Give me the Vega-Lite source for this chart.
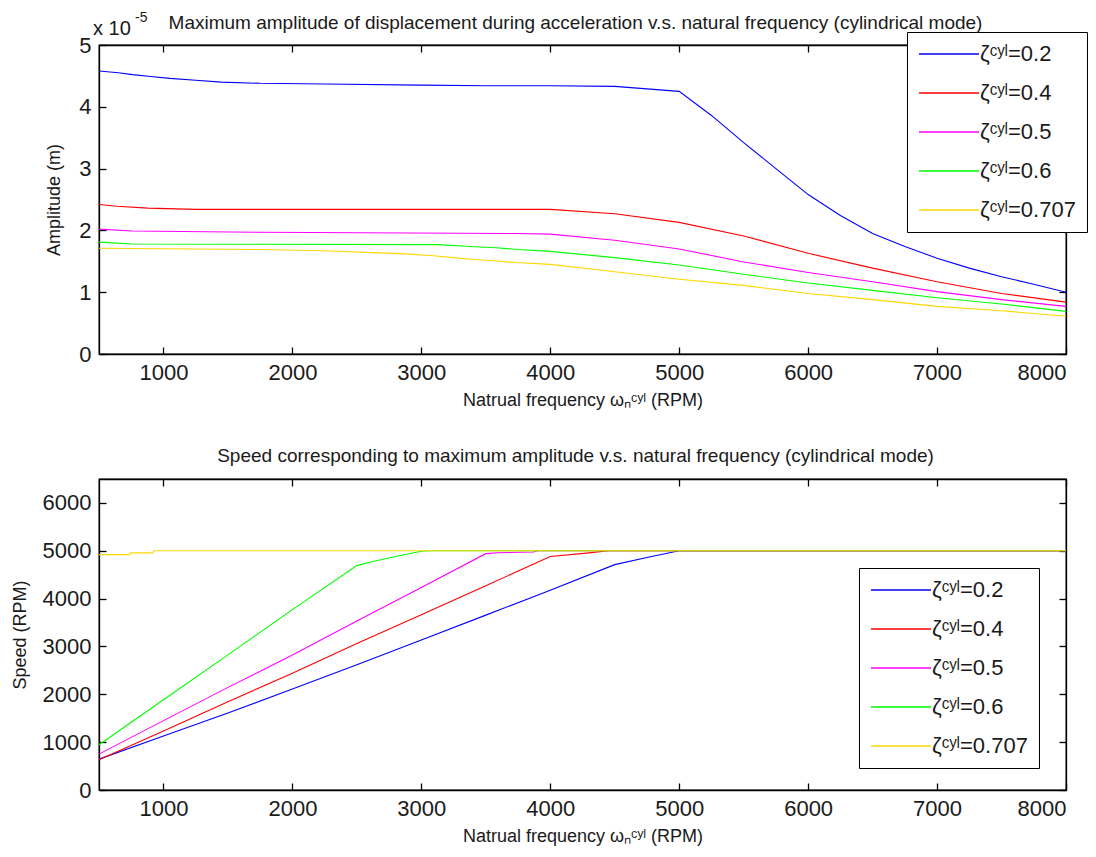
{
  "$schema": "https://vega.github.io/schema/vega-lite/v6.json",
  "background": "white",
  "padding": {"left": 10, "top": 10, "right": 5, "bottom": 5},
  "spacing": 36,
  "config": {
    "font": "Liberation Sans",
    "view": {"stroke": "black", "strokeWidth": 1.3},
    "axis": {
      "domainColor": "black", "tickColor": "black", "labelColor": "#1a1a1a", "titleColor": "#1a1a1a",
      "labelFontSize": 22, "titleFontSize": 18, "titleFontWeight": "normal",
      "tickSize": -7, "grid": false, "labelFont": "Liberation Sans", "titleFont": "Liberation Sans",
      "domainWidth": 1.3, "tickWidth": 1.3, "labelPadding": 15, "titlePadding": 13, "format": "d"
    },
    "axisX": {"titlePadding": 8},
    "title": {"fontSize": 19, "fontWeight": "normal", "color": "#1a1a1a", "font": "Liberation Sans"},
    "legend": {
      "symbolType": "M-1,0H5", "symbolSize": 400, "symbolStrokeWidth": 1.3,
      "labelFontSize": 22, "labelFont": "Liberation Sans", "labelColor": "#1a1a1a",
      "fillColor": "white", "strokeColor": "black", "padding": 11, "rowPadding": 17,
      "labelLimit": 300, "labelOffset": 40, "title": null, "labelBaseline": "middle"
    }
  },
  "datasets": {
    "amp": [
      {"z": "ζᶜʸˡ=0.2", "f": 500, "a": 4.58}, {"z": "ζᶜʸˡ=0.2", "f": 650, "a": 4.55}, {"z": "ζᶜʸˡ=0.2", "f": 760, "a": 4.52},
      {"z": "ζᶜʸˡ=0.2", "f": 900, "a": 4.49}, {"z": "ζᶜʸˡ=0.2", "f": 1050, "a": 4.46}, {"z": "ζᶜʸˡ=0.2", "f": 1250, "a": 4.43},
      {"z": "ζᶜʸˡ=0.2", "f": 1450, "a": 4.40}, {"z": "ζᶜʸˡ=0.2", "f": 1750, "a": 4.38}, {"z": "ζᶜʸˡ=0.2", "f": 2250, "a": 4.37},
      {"z": "ζᶜʸˡ=0.2", "f": 3000, "a": 4.35}, {"z": "ζᶜʸˡ=0.2", "f": 3500, "a": 4.34}, {"z": "ζᶜʸˡ=0.2", "f": 4000, "a": 4.34},
      {"z": "ζᶜʸˡ=0.2", "f": 4500, "a": 4.33}, {"z": "ζᶜʸˡ=0.2", "f": 5000, "a": 4.25}, {"z": "ζᶜʸˡ=0.2", "f": 5250, "a": 3.86},
      {"z": "ζᶜʸˡ=0.2", "f": 5500, "a": 3.42}, {"z": "ζᶜʸˡ=0.2", "f": 5750, "a": 3.0}, {"z": "ζᶜʸˡ=0.2", "f": 6000, "a": 2.58},
      {"z": "ζᶜʸˡ=0.2", "f": 6250, "a": 2.24}, {"z": "ζᶜʸˡ=0.2", "f": 6500, "a": 1.95}, {"z": "ζᶜʸˡ=0.2", "f": 6750, "a": 1.74},
      {"z": "ζᶜʸˡ=0.2", "f": 7000, "a": 1.55}, {"z": "ζᶜʸˡ=0.2", "f": 7250, "a": 1.39}, {"z": "ζᶜʸˡ=0.2", "f": 7500, "a": 1.25},
      {"z": "ζᶜʸˡ=0.2", "f": 7750, "a": 1.13}, {"z": "ζᶜʸˡ=0.2", "f": 8000, "a": 1.0},
      {"z": "ζᶜʸˡ=0.4", "f": 500, "a": 2.42}, {"z": "ζᶜʸˡ=0.4", "f": 640, "a": 2.39}, {"z": "ζᶜʸˡ=0.4", "f": 880, "a": 2.36},
      {"z": "ζᶜʸˡ=0.4", "f": 1250, "a": 2.34}, {"z": "ζᶜʸˡ=0.4", "f": 4000, "a": 2.34}, {"z": "ζᶜʸˡ=0.4", "f": 4500, "a": 2.27},
      {"z": "ζᶜʸˡ=0.4", "f": 5000, "a": 2.13}, {"z": "ζᶜʸˡ=0.4", "f": 5500, "a": 1.91}, {"z": "ζᶜʸˡ=0.4", "f": 6000, "a": 1.63},
      {"z": "ζᶜʸˡ=0.4", "f": 6500, "a": 1.39}, {"z": "ζᶜʸˡ=0.4", "f": 7000, "a": 1.17}, {"z": "ζᶜʸˡ=0.4", "f": 7500, "a": 0.98},
      {"z": "ζᶜʸˡ=0.4", "f": 8000, "a": 0.84},
      {"z": "ζᶜʸˡ=0.5", "f": 500, "a": 2.02}, {"z": "ζᶜʸˡ=0.5", "f": 760, "a": 1.99}, {"z": "ζᶜʸˡ=0.5", "f": 1740, "a": 1.97},
      {"z": "ζᶜʸˡ=0.5", "f": 3740, "a": 1.95}, {"z": "ζᶜʸˡ=0.5", "f": 4000, "a": 1.94}, {"z": "ζᶜʸˡ=0.5", "f": 4500, "a": 1.84},
      {"z": "ζᶜʸˡ=0.5", "f": 5000, "a": 1.70}, {"z": "ζᶜʸˡ=0.5", "f": 5500, "a": 1.49}, {"z": "ζᶜʸˡ=0.5", "f": 6000, "a": 1.32},
      {"z": "ζᶜʸˡ=0.5", "f": 6500, "a": 1.17}, {"z": "ζᶜʸˡ=0.5", "f": 7000, "a": 1.01}, {"z": "ζᶜʸˡ=0.5", "f": 7500, "a": 0.88},
      {"z": "ζᶜʸˡ=0.5", "f": 8000, "a": 0.77},
      {"z": "ζᶜʸˡ=0.6", "f": 500, "a": 1.81}, {"z": "ζᶜʸˡ=0.6", "f": 760, "a": 1.78}, {"z": "ζᶜʸˡ=0.6", "f": 3130, "a": 1.77},
      {"z": "ζᶜʸˡ=0.6", "f": 3380, "a": 1.74}, {"z": "ζᶜʸˡ=0.6", "f": 3580, "a": 1.72}, {"z": "ζᶜʸˡ=0.6", "f": 3750, "a": 1.69},
      {"z": "ζᶜʸˡ=0.6", "f": 4000, "a": 1.66}, {"z": "ζᶜʸˡ=0.6", "f": 4500, "a": 1.56}, {"z": "ζᶜʸˡ=0.6", "f": 5000, "a": 1.44},
      {"z": "ζᶜʸˡ=0.6", "f": 5500, "a": 1.29}, {"z": "ζᶜʸˡ=0.6", "f": 6000, "a": 1.15}, {"z": "ζᶜʸˡ=0.6", "f": 6500, "a": 1.03},
      {"z": "ζᶜʸˡ=0.6", "f": 7000, "a": 0.91}, {"z": "ζᶜʸˡ=0.6", "f": 7500, "a": 0.81}, {"z": "ζᶜʸˡ=0.6", "f": 8000, "a": 0.69},
      {"z": "ζᶜʸˡ=0.707", "f": 500, "a": 1.71}, {"z": "ζᶜʸˡ=0.707", "f": 1740, "a": 1.69}, {"z": "ζᶜʸˡ=0.707", "f": 2240, "a": 1.67},
      {"z": "ζᶜʸˡ=0.707", "f": 2620, "a": 1.64}, {"z": "ζᶜʸˡ=0.707", "f": 2870, "a": 1.62}, {"z": "ζᶜʸˡ=0.707", "f": 3090, "a": 1.59},
      {"z": "ζᶜʸˡ=0.707", "f": 3250, "a": 1.56}, {"z": "ζᶜʸˡ=0.707", "f": 3410, "a": 1.53}, {"z": "ζᶜʸˡ=0.707", "f": 3560, "a": 1.51},
      {"z": "ζᶜʸˡ=0.707", "f": 3730, "a": 1.48}, {"z": "ζᶜʸˡ=0.707", "f": 4000, "a": 1.45}, {"z": "ζᶜʸˡ=0.707", "f": 4500, "a": 1.33},
      {"z": "ζᶜʸˡ=0.707", "f": 5000, "a": 1.21}, {"z": "ζᶜʸˡ=0.707", "f": 5500, "a": 1.11}, {"z": "ζᶜʸˡ=0.707", "f": 6000, "a": 0.98},
      {"z": "ζᶜʸˡ=0.707", "f": 6500, "a": 0.88}, {"z": "ζᶜʸˡ=0.707", "f": 7000, "a": 0.77}, {"z": "ζᶜʸˡ=0.707", "f": 7500, "a": 0.70},
      {"z": "ζᶜʸˡ=0.707", "f": 8000, "a": 0.61}
    ],
    "spd": [
      {"z": "ζᶜʸˡ=0.2", "f": 500, "s": 645}, {"z": "ζᶜʸˡ=0.2", "f": 1000, "s": 1130}, {"z": "ζᶜʸˡ=0.2", "f": 1500, "s": 1610},
      {"z": "ζᶜʸˡ=0.2", "f": 2000, "s": 2110}, {"z": "ζᶜʸˡ=0.2", "f": 2500, "s": 2620}, {"z": "ζᶜʸˡ=0.2", "f": 3000, "s": 3135},
      {"z": "ζᶜʸˡ=0.2", "f": 3500, "s": 3655}, {"z": "ζᶜʸˡ=0.2", "f": 4000, "s": 4175}, {"z": "ζᶜʸˡ=0.2", "f": 4500, "s": 4710},
      {"z": "ζᶜʸˡ=0.2", "f": 4750, "s": 4860}, {"z": "ζᶜʸˡ=0.2", "f": 5000, "s": 5000}, {"z": "ζᶜʸˡ=0.2", "f": 8000, "s": 5000},
      {"z": "ζᶜʸˡ=0.4", "f": 500, "s": 630}, {"z": "ζᶜʸˡ=0.4", "f": 1000, "s": 1235}, {"z": "ζᶜʸˡ=0.4", "f": 1500, "s": 1845},
      {"z": "ζᶜʸˡ=0.4", "f": 2000, "s": 2440}, {"z": "ζᶜʸˡ=0.4", "f": 2500, "s": 3060}, {"z": "ζᶜʸˡ=0.4", "f": 3000, "s": 3665},
      {"z": "ζᶜʸˡ=0.4", "f": 3500, "s": 4270}, {"z": "ζᶜʸˡ=0.4", "f": 4000, "s": 4880}, {"z": "ζᶜʸˡ=0.4", "f": 4300, "s": 4955},
      {"z": "ζᶜʸˡ=0.4", "f": 4450, "s": 5000}, {"z": "ζᶜʸˡ=0.4", "f": 8000, "s": 5000},
      {"z": "ζᶜʸˡ=0.5", "f": 500, "s": 750}, {"z": "ζᶜʸˡ=0.5", "f": 1000, "s": 1450}, {"z": "ζᶜʸˡ=0.5", "f": 1500, "s": 2145},
      {"z": "ζᶜʸˡ=0.5", "f": 2000, "s": 2820}, {"z": "ζᶜʸˡ=0.5", "f": 2500, "s": 3530}, {"z": "ζᶜʸˡ=0.5", "f": 3000, "s": 4230},
      {"z": "ζᶜʸˡ=0.5", "f": 3500, "s": 4940}, {"z": "ζᶜʸˡ=0.5", "f": 3600, "s": 4960}, {"z": "ζᶜʸˡ=0.5", "f": 3870, "s": 4975},
      {"z": "ζᶜʸˡ=0.5", "f": 3900, "s": 5000}, {"z": "ζᶜʸˡ=0.5", "f": 8000, "s": 5000},
      {"z": "ζᶜʸˡ=0.6", "f": 500, "s": 945}, {"z": "ζᶜʸˡ=0.6", "f": 1000, "s": 1885}, {"z": "ζᶜʸˡ=0.6", "f": 1500, "s": 2825},
      {"z": "ζᶜʸˡ=0.6", "f": 2000, "s": 3770}, {"z": "ζᶜʸˡ=0.6", "f": 2500, "s": 4690}, {"z": "ζᶜʸˡ=0.6", "f": 2600, "s": 4760},
      {"z": "ζᶜʸˡ=0.6", "f": 2800, "s": 4880}, {"z": "ζᶜʸˡ=0.6", "f": 3000, "s": 4990}, {"z": "ζᶜʸˡ=0.6", "f": 3050, "s": 5000},
      {"z": "ζᶜʸˡ=0.6", "f": 8000, "s": 5000},
      {"z": "ζᶜʸˡ=0.707", "f": 500, "s": 4920}, {"z": "ζᶜʸˡ=0.707", "f": 735, "s": 4920}, {"z": "ζᶜʸˡ=0.707", "f": 745, "s": 4955},
      {"z": "ζᶜʸˡ=0.707", "f": 915, "s": 4955}, {"z": "ζᶜʸˡ=0.707", "f": 925, "s": 5000}, {"z": "ζᶜʸˡ=0.707", "f": 8000, "s": 5000}
    ]
  },
  "resolve": {"legend": {"color": "independent"}, "scale": {"color": "independent"}},
  "vconcat": [
    {
      "width": 967, "height": 309,
      "title": {"text": "Maximum amplitude of displacement during acceleration v.s. natural frequency (cylindrical mode)", "dx": -7, "offset": -22},
      "resolve": {"axis": {"x": "independent", "y": "independent"}},
      "layer": [
        {
          "data": {"name": "amp"},
          "mark": {"type": "line", "strokeWidth": 1.1},
          "encoding": {
            "x": {"field": "f", "type": "quantitative", "scale": {"domain": [500, 8000], "nice": false, "zero": false},
                  "axis": {"values": [1000, 2000, 3000, 4000, 5000, 6000, 7000, 8000], "title": "Natrual frequency ωₙᶜʸˡ (RPM)"}},
            "y": {"field": "a", "type": "quantitative", "scale": {"domain": [0, 5], "nice": false},
                  "axis": {"values": [0, 1, 2, 3, 4, 5], "title": "Amplitude (m)", "titlePadding": 15}},
            "color": {"field": "z", "type": "nominal",
                      "scale": {"domain": ["ζᶜʸˡ=0.2", "ζᶜʸˡ=0.4", "ζᶜʸˡ=0.5", "ζᶜʸˡ=0.6", "ζᶜʸˡ=0.707"], "range": ["#0000FF", "#FF0000", "#FF00FF", "#00FF00", "#FFD700"]},
                      "legend": {"orient": "none", "legendX": 808, "legendY": -13}}
          }
        },
        {
          "data": {"name": "amp"},
          "mark": {"type": "point", "opacity": 0},
          "encoding": {
            "x": {"field": "f", "type": "quantitative", "scale": {"domain": [500, 8000], "nice": false, "zero": false},
                  "axis": {"orient": "top", "values": [1000, 2000, 3000, 4000, 5000, 6000, 7000, 8000], "labels": false, "title": null}},
            "y": {"field": "a", "type": "quantitative", "scale": {"domain": [0, 5], "nice": false},
                  "axis": {"orient": "right", "values": [0, 1, 2, 3, 4, 5], "labels": false, "title": null}}
          }
        },
        {
          "data": {"values": [{"note": "x 10"}]},
          "mark": {"type": "text", "align": "left", "baseline": "alphabetic", "fontSize": 20, "dx": -6, "dy": -10, "color": "#1a1a1a"},
          "encoding": {
            "text": {"field": "note"},
            "x": {"datum": 500, "type": "quantitative", "axis": null},
            "y": {"datum": 5, "type": "quantitative", "axis": null}
          }
        },
        {
          "data": {"values": [{"note": "-5"}]},
          "mark": {"type": "text", "align": "left", "baseline": "alphabetic", "fontSize": 14, "dx": 36, "dy": -23, "color": "#1a1a1a"},
          "encoding": {
            "text": {"field": "note"},
            "x": {"datum": 500, "type": "quantitative", "axis": null},
            "y": {"datum": 5, "type": "quantitative", "axis": null}
          }
        }
      ]
    },
    {
      "width": 967, "height": 311,
      "title": {"text": "Speed corresponding to maximum amplitude v.s. natural frequency (cylindrical mode)", "dx": -7, "offset": 12},
      "resolve": {"axis": {"x": "independent", "y": "independent"}},
      "layer": [
        {
          "data": {"name": "spd"},
          "mark": {"type": "line", "strokeWidth": 1.1},
          "encoding": {
            "x": {"field": "f", "type": "quantitative", "scale": {"domain": [500, 8000], "nice": false, "zero": false},
                  "axis": {"values": [1000, 2000, 3000, 4000, 5000, 6000, 7000, 8000], "title": "Natrual frequency ωₙᶜʸˡ (RPM)"}},
            "y": {"field": "s", "type": "quantitative", "scale": {"domain": [0, 6500], "nice": false},
                  "axis": {"values": [0, 1000, 2000, 3000, 4000, 5000, 6000], "title": "Speed (RPM)"}},
            "color": {"field": "z", "type": "nominal",
                      "scale": {"domain": ["ζᶜʸˡ=0.2", "ζᶜʸˡ=0.4", "ζᶜʸˡ=0.5", "ζᶜʸˡ=0.6", "ζᶜʸˡ=0.707"], "range": ["#0000FF", "#FF0000", "#FF00FF", "#00FF00", "#FFD700"]},
                      "legend": {"orient": "none", "legendX": 760, "legendY": 89}}
          }
        },
        {
          "data": {"name": "spd"},
          "mark": {"type": "point", "opacity": 0},
          "encoding": {
            "x": {"field": "f", "type": "quantitative", "scale": {"domain": [500, 8000], "nice": false, "zero": false},
                  "axis": {"orient": "top", "values": [1000, 2000, 3000, 4000, 5000, 6000, 7000, 8000], "labels": false, "title": null}},
            "y": {"field": "s", "type": "quantitative", "scale": {"domain": [0, 6500], "nice": false},
                  "axis": {"orient": "right", "values": [0, 1000, 2000, 3000, 4000, 5000, 6000], "labels": false, "title": null}}
          }
        }
      ]
    }
  ]
}
